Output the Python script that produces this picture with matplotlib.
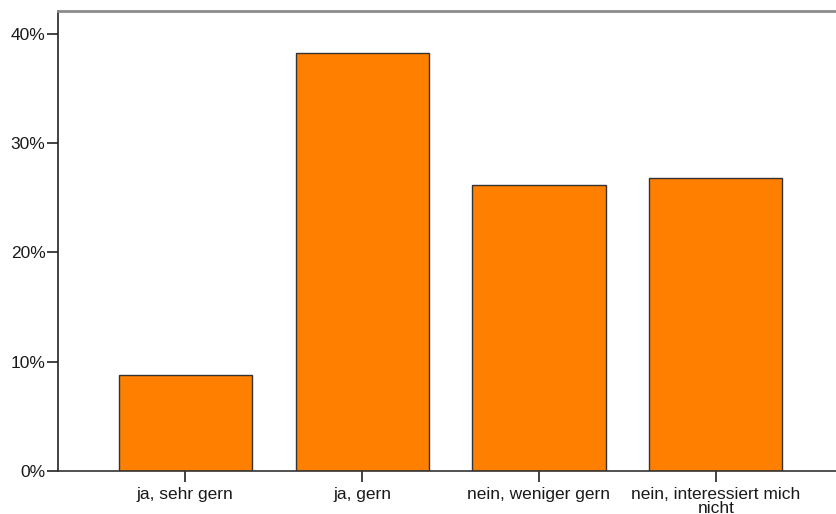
import matplotlib.pyplot as plt
from matplotlib.ticker import PercentFormatter

plt.rcParams['font.family'] = ['Liberation Sans', 'DejaVu Sans']

# Data
categories = ['ja, sehr gern', 'ja, gern', 'nein, weniger gern', 'nein, interessiert mich\nnicht']
percent = [8.8, 38.3, 26.2, 26.8]
yticks = [0, 10, 20, 30, 40]

fig = plt.figure(figsize=(8.36, 5.14), dpi=100)
ax = fig.add_axes([58 / 836, 43 / 514, (836 - 58) / 836, 460 / 514])

x = range(len(categories))
ax.bar(x, percent, width=0.753, color='#ff8000', edgecolor='#333333', linewidth=1.0, zorder=2)

ax.set_xlim(-0.72, 3.68)
ax.set_ylim(0, 42.1)
ax.set_yticks(yticks)
ax.yaxis.set_major_formatter(PercentFormatter(decimals=0))
ax.set_xticks(list(x))
ax.set_xticklabels(categories, linespacing=0.9)

ax.tick_params(axis='both', labelsize=12.5, length=8, width=1.2, color='#222222',
               labelcolor='#1a1a1a', pad=1)
ax.tick_params(axis='x', pad=3.5)

ax.spines['right'].set_visible(False)
ax.spines['top'].set_color('#8c8c8c')
ax.spines['top'].set_linewidth(2)
ax.spines['left'].set_color('#222222')
ax.spines['bottom'].set_color('#333333')
ax.spines['left'].set_linewidth(1.2)
ax.spines['bottom'].set_linewidth(1.2)

fig.savefig('out.png', dpi=100)
